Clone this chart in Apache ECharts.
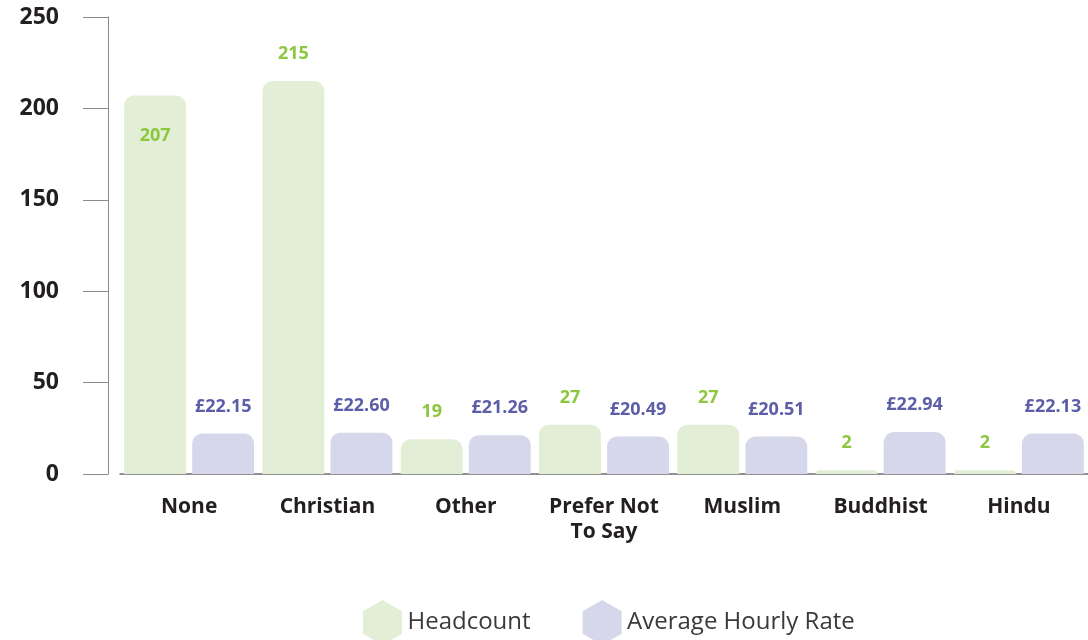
<!DOCTYPE html>
<html>
<head>
<meta charset="utf-8">
<script src="https://cdn.jsdelivr.net/npm/echarts@6/dist/echarts.min.js"></script>
<style>html,body{margin:0;padding:0;background:#fff}#c{width:1088px;height:640px}</style>
</head>
<body>
<div id="c"></div>
<script>
const categories = ['None', 'Christian', 'Other', 'Prefer Not\nTo Say', 'Muslim', 'Buddhist', 'Hindu'];
const headcount = [207, 215, 19, 27, 27, 2, 2];
const hourlyRate = [22.15, 22.60, 21.26, 20.49, 20.51, 22.94, 22.13];
const yTicks = [0, 50, 100, 150, 200, 250];

const FONT = '"Open Sans", sans-serif';
const green = '#e2efd6', greenText = '#8dc63f';
const purple = '#d6d7eb', purpleText = '#5c5fa8';
const hex = 'path://M50,0 L93.3,25 L93.3,75 L50,100 L6.7,75 L6.7,25 Z';

const chart = echarts.init(document.getElementById('c'));
chart.setOption({
  animation: false,
  textStyle: { fontFamily: FONT },
  grid: { left: 120, right: 0, top: 17, bottom: 166, containLabel: false },
  legend: {
    top: 595, left: 358,
    itemWidth: 40, itemHeight: 45, itemGap: 52,
    icon: hex,
    textStyle: { fontFamily: FONT, fontSize: 24, color: '#3a3a3a', padding: [0, 0, 0, 0] },
    data: [
      { name: 'Headcount', itemStyle: { color: green } },
      { name: 'Average Hourly Rate', itemStyle: { color: purple } }
    ]
  },
  xAxis: {
    type: 'category',
    data: categories,
    axisLine: { lineStyle: { color: '#6d6e71', width: 1.5 } },
    axisTick: { show: false },
    axisLabel: { interval: 0, hideOverlap: false, fontFamily: FONT, fontWeight: 'bold', fontSize: 21, color: '#231f20', margin: 21, lineHeight: 25 }
  },
  yAxis: {
    type: 'value',
    min: yTicks[0], max: yTicks[yTicks.length - 1], interval: 50,
    offset: 12,
    axisLine: { show: true, lineStyle: { color: '#8a8a8a', width: 1 } },
    axisTick: { show: true, length: 25, lineStyle: { color: '#8a8a8a' } },
    splitLine: { show: false },
    axisLabel: { fontFamily: FONT, fontWeight: 'bold', fontSize: 23, color: '#231f20', margin: 49 }
  },
  series: [
    {
      name: 'Headcount', type: 'bar',
      barGap: '10%', barCategoryGap: '6%',
      itemStyle: { color: green, borderRadius: [10, 10, 0, 0] },
      label: { show: true, position: 'top', distance: 18, fontFamily: FONT, fontWeight: 'bold', fontSize: 18, color: greenText },
      data: headcount.map((v, i) => i === 0
        ? { value: v, label: { position: 'insideTop', distance: 31 } }
        : v)
    },
    {
      name: 'Average Hourly Rate', type: 'bar',
      itemStyle: { color: purple, borderRadius: [10, 10, 0, 0] },
      label: { show: true, position: 'top', distance: 18, fontFamily: FONT, fontWeight: 'bold', fontSize: 18, color: purpleText,
        formatter: p => '£' + p.value.toFixed(2) },
      data: hourlyRate
    }
  ]
});
</script>
</body>
</html>
